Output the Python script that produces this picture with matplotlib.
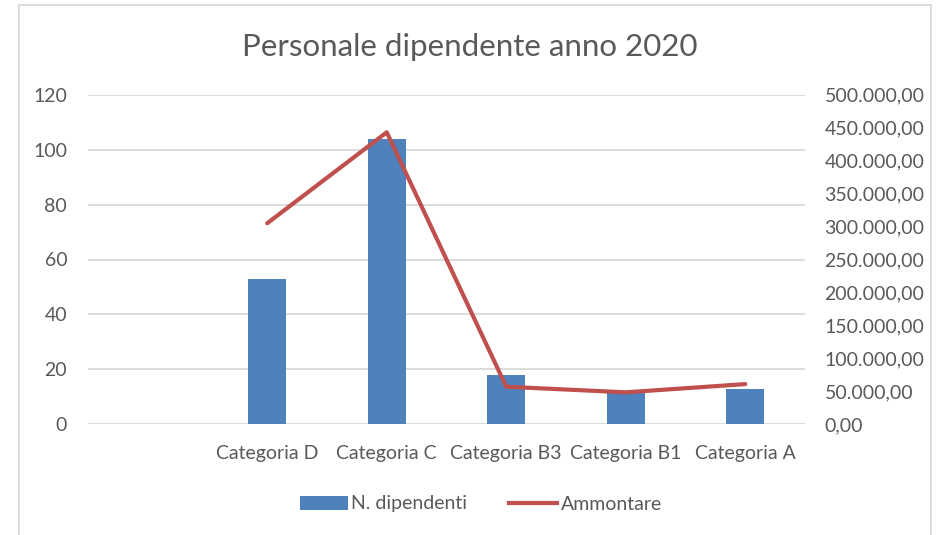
import numpy as np
import matplotlib
matplotlib.use("Agg")
import matplotlib.pyplot as plt
from matplotlib.patches import Rectangle, Patch
from matplotlib.lines import Line2D
from matplotlib.ticker import FuncFormatter

plt.rcParams['font.family'] = ['Lato', 'DejaVu Sans']

# dati
categorie = ['', 'Categoria D', 'Categoria C', 'Categoria B3', 'Categoria B1', 'Categoria A']
n_dipendenti = [np.nan, 53, 104, 18, 12, 13]
ammontare = [np.nan, 305000, 443000, 57000, 48500, 61000]

blu = '#4F81BD'
rosso = '#C0504D'
grigio = '#595959'
griglia = '#D9D9D9'


def formato_it(v, pos=None):
    s = f"{v:,.2f}"
    return s.replace(',', 'X').replace('.', ',').replace('X', '.')


fig = plt.figure(figsize=(9.4, 5.35), dpi=100)
fig.patches.append(Rectangle((18.5 / 940, -0.1), 912 / 940, 1.1 - 5 / 535,
                             transform=fig.transFigure, fill=False,
                             edgecolor=griglia, linewidth=1.3))

ax = fig.add_axes([88 / 940, 1 - 424.3 / 535, 717 / 940, 329.6 / 535])
x = np.arange(len(categorie))
ax.bar(x, n_dipendenti, width=0.315, color=blu, zorder=2)
ax.set_xlim(-0.5, len(categorie) - 0.5)
ax.set_ylim(0, 120)
ax.set_yticks(range(0, 121, 20))
ax.set_xticks(x)
ax.set_xticklabels(categorie)
ax.grid(axis='y', color=griglia, linewidth=1.3)
ax.set_axisbelow(True)
for s in ax.spines.values():
    s.set_visible(False)
ax.tick_params(length=0, labelsize=14, labelcolor=grigio)
ax.tick_params(axis='y', pad=15)
ax.tick_params(axis='x', pad=15)

ax2 = ax.twinx()
ax2.plot(x, ammontare, color=rosso, linewidth=3, solid_capstyle='round', zorder=3)
ax2.set_ylim(0, 500000)
ax2.set_yticks(range(0, 500001, 50000))
ax2.yaxis.set_major_formatter(FuncFormatter(formato_it))
for s in ax2.spines.values():
    s.set_visible(False)
ax2.tick_params(length=0, labelsize=14, labelcolor=grigio, pad=14)

fig.text(0.5, 1 - 47 / 535, 'Personale dipendente anno 2020', ha='center', va='center',
         fontsize=22.5, color=grigio)

handles = [Patch(facecolor=blu, edgecolor='none'),
           Line2D([0], [0], color=rosso, linewidth=3)]
leg = fig.legend(handles, ['N. dipendenti', 'Ammontare'], loc='center',
                 bbox_to_anchor=(481 / 940, 1 - 504 / 535), ncol=2, frameon=False,
                 fontsize=14, handlelength=2.47, handleheight=0.7,
                 handletextpad=0.2, columnspacing=2.15)
for t in leg.get_texts():
    t.set_color(grigio)

fig.savefig('out.png', dpi=100)
